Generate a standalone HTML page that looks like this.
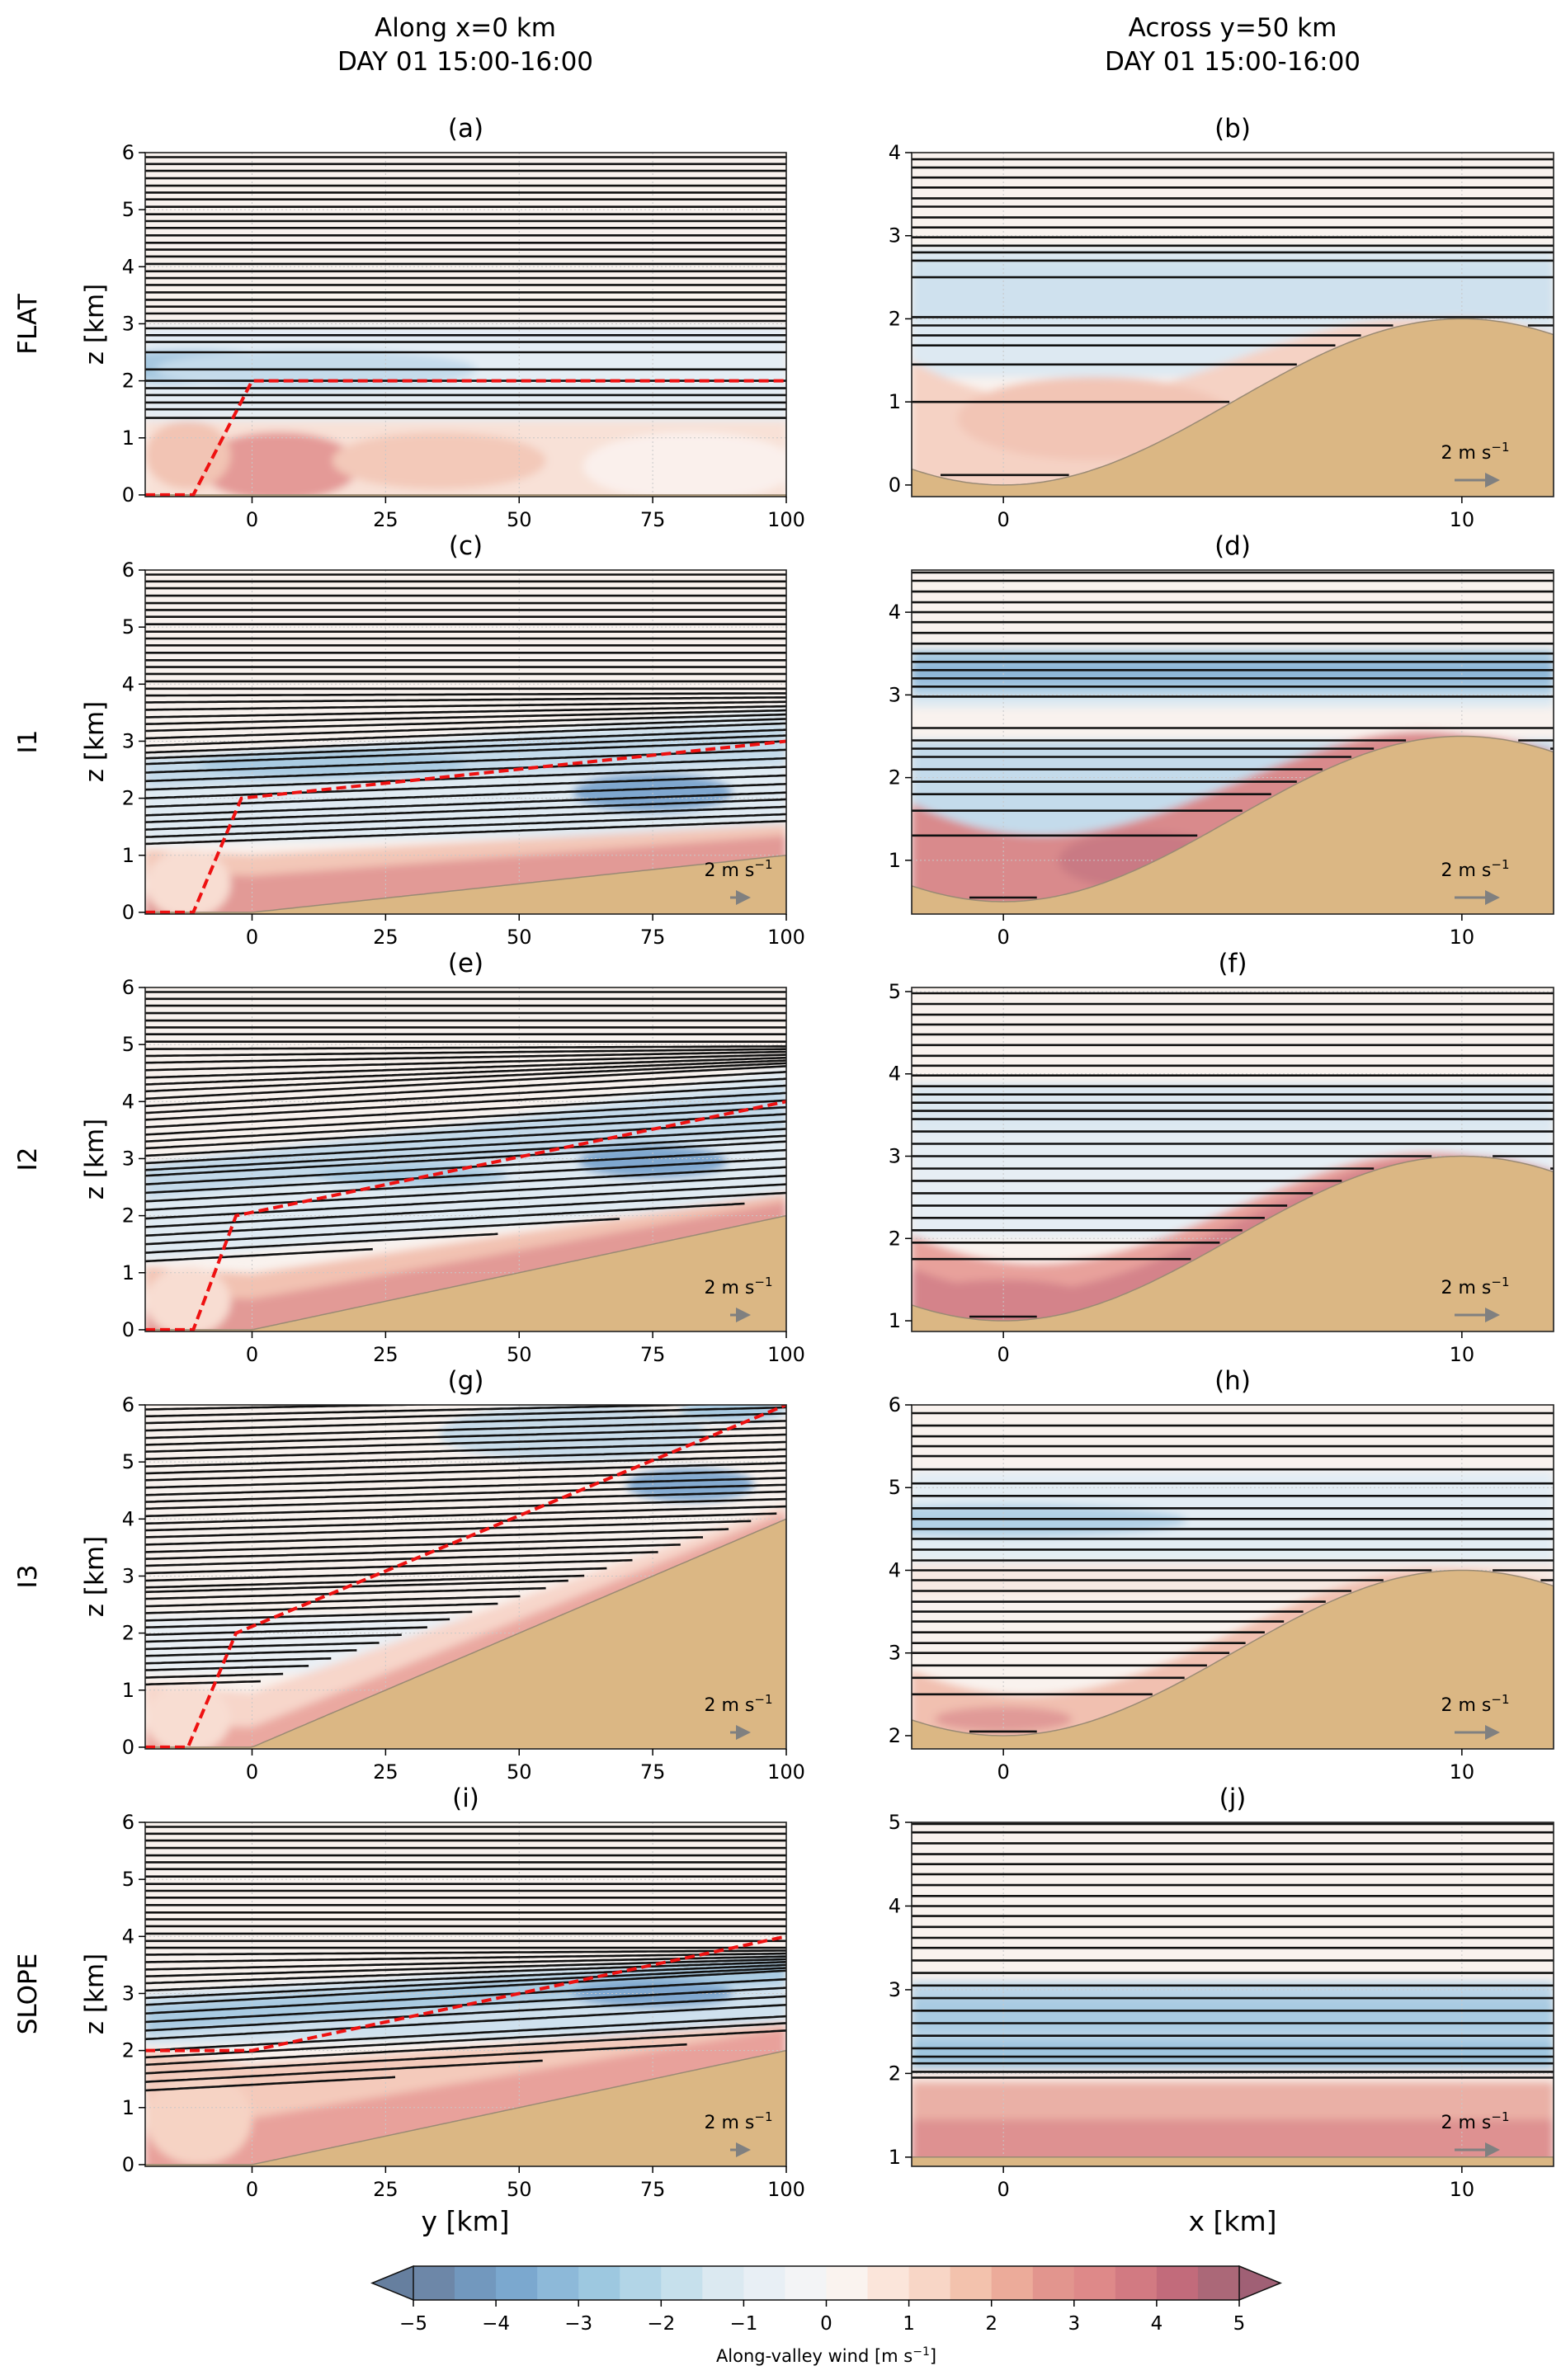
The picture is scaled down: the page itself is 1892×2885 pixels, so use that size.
<!DOCTYPE html>
<html><head><meta charset="utf-8"><style>
html,body{margin:0;padding:0;background:#fff;}
svg text{font-family:"DejaVu Sans","Liberation Sans",sans-serif;fill:#000;}
</style></head><body>
<svg id="fig" xmlns="http://www.w3.org/2000/svg" width="1892" height="2880" viewBox="0 0 1892 2880">
<defs>
<filter id="blur" x="-5%" y="-5%" width="110%" height="110%"><feGaussianBlur stdDeviation="5"/></filter>
<marker id="ah" markerWidth="6" markerHeight="6" refX="3" refY="3" orient="auto"><path d="M0,0 L6,3 L0,6 z" fill="#808080"/></marker>
</defs>
<text x="564" y="44" font-size="31" text-anchor="middle">Along x=0 km</text>
<text x="564" y="85" font-size="31" text-anchor="middle">DAY 01 15:00-16:00</text>
<text x="1494" y="44" font-size="31" text-anchor="middle">Across y=50 km</text>
<text x="1494" y="85" font-size="31" text-anchor="middle">DAY 01 15:00-16:00</text>
<text x="564" y="2704" font-size="33" text-anchor="middle">y [km]</text>
<text x="1494" y="2704" font-size="33" text-anchor="middle">x [km]</text>
</svg>
<script>
const NS='http://www.w3.org/2000/svg';
const svg=document.getElementById('fig');

const panelTops=[185,691,1197,1703,2209];
const rowNames=['FLAT','I1','I2','I3','SLOPE'];
const leftLetters=['(a)','(c)','(e)','(g)','(i)'];
const rightLetters=['(b)','(d)','(f)','(h)','(j)'];
const leftXTicks=[0,25,50,75,100];
const leftZTicks=[0,1,2,3,4,5,6];
const rightXTicks=[0,10];
const rightZTicks=[[0,1,2,3,4],[1,2,3,4],[1,2,3,4,5],[2,3,4,5,6],[1,2,3,4,5]];
const rightZRange=[[-0.14,4.0],[0.35,4.51],[0.87,5.05],[1.84,6.0],[0.89,5.0]];
const leftZRange=[-0.03,6];
const slopeGain=[0,1,2,4,2];
const valleyBase=[0,0.5,1,2,1];
const ridgeHeight=[2,2,2,2,0];

const redLineY=[[-20,-11,0,100],[-20,-11,-2,100],[-20,-11,-3,100],[-20,-12,-3,100],[-20,0,100]];
const redLineZ=[[0,0,2,2],[0,0,2,3],[0,0,2,4],[0,0,2,6],[2,2,4]];

const upperLevels=[2.8,2.92,3.05,3.18,3.3,3.42,3.55,3.68,3.8,3.92,4.05,4.18,4.3,4.42,4.55,4.68,4.8,4.92,5.05,5.18,5.3,5.42,5.55,5.68,5.8,5.92];
const leftLower=[
 [1.35,1.5,1.62,1.75,1.87,2.0,2.2,2.5,2.68],
 [1.2,1.32,1.45,1.58,1.7,1.85,2.0,2.15,2.3,2.45,2.6,2.7],
 [1.2,1.35,1.5,1.65,1.8,1.95,2.1,2.25,2.4,2.55,2.7],
 [1.1,1.22,1.35,1.47,1.6,1.72,1.85,1.97,2.1,2.22,2.35,2.47,2.6,2.72],
 [1.3,1.45,1.6,1.75,1.88,2.0,2.2,2.35,2.5,2.65]];
const leftBLStart=[1.3,1.15,1.15,1.1,1.25];
const leftBLEnd=[1.3,0.3,0.3,0.15,0.3];
const tiltTop=[0,3.9,5.0,6.6,3.8];
const tiltAmount=[0,0.4,0.6,0.3,0.6];
const rightLevels=[
 [0.12,1.0,1.45,1.68,1.8,1.92,2.02,2.5,2.7,2.8,2.88,2.98,3.1,3.22,3.35,3.45,3.58,3.7,3.82,3.92],
 [0.55,1.3,1.6,1.8,1.95,2.1,2.25,2.35,2.45,2.6,2.98,3.1,3.2,3.3,3.4,3.5,3.62,3.75,3.88,4.0,4.12,4.25,4.38,4.48],
 [1.05,1.75,1.95,2.1,2.25,2.4,2.55,2.7,2.85,3.0,3.15,3.3,3.45,3.55,3.65,3.75,3.85,3.98,4.1,4.22,4.35,4.48,4.6,4.72,4.85,4.98],
 [2.05,2.5,2.7,2.85,3.0,3.12,3.25,3.38,3.5,3.62,3.75,3.88,4.0,4.12,4.25,4.38,4.5,4.62,4.75,4.9,5.05,5.22,5.38,5.5,5.62,5.75,5.9],
 [1.95,2.02,2.12,2.2,2.3,2.45,2.6,2.75,2.9,3.05,3.2,3.35,3.5,3.62,3.75,3.88,4.0,4.12,4.25,4.38,4.5,4.62,4.75,4.88,4.98]];

const leftBands=[
 [['a',1.3,2.95,1.3,2.95,'#e4edf4'],['t',0,1.3,0,1.3,'#f8e1d7']],
 [['a',1.2,2.6,1.4,3.6,'#e0ebf3'],['a',2.2,2.7,2.6,3.3,'#c4dbeb'],['t',0,1.1,0,0.55,'#f3c7b8'],['t',0,0.7,0,0.35,'#e29a96']],
 [['a',1.2,2.6,2.3,4.6,'#e0ebf3'],['a',2.3,2.9,3.5,4.3,'#c2d9ea'],['t',0,1.1,0,0.4,'#f2c2b2'],['t',0,0.6,0,0.25,'#e29a96']],
 [['a',1.3,2.3,1.3,2.3,'#eaf0f5'],['t',0,1.1,0,0.25,'#f7d6ca'],['t',0,0.4,0,0.12,'#eaa8a0']],
 [['a',2.1,3.0,2.3,3.7,'#cfe1ee'],['a',2.3,2.8,3.2,3.6,'#a9cbe2'],['t',0,2.0,0,0.5,'#f4cabb'],['t',0,0.9,0,0.4,'#e8a19b']]];
const leftBlobs=[
 [[-10,2.25,22,0.3,'#a6c8e0'],[12,2.2,30,0.35,'#c5dbeb'],[5,0.5,15,0.6,'#e49a97'],[-12,0.7,8,0.6,'#f2c4b4'],[35,0.6,20,0.5,'#f3c9b9'],[82,0.5,20,0.6,'#faf0ec']],
 [[75,2.1,15,0.35,'#7fa7cf'],[15,2.6,25,0.25,'#a9cbe2'],[-12,0.5,8,0.6,'#f8ddd2']],
 [[75,2.95,14,0.3,'#7fa7cf'],[30,2.7,18,0.2,'#a9cbe2'],[-12,0.5,8,0.6,'#f8ddd2']],
 [[82,4.6,12,0.3,'#84abd1'],[60,5.5,25,0.5,'#c8dcea'],[90,5.9,10,0.2,'#a9cbe2'],[-12,0.5,8,0.6,'#f8ddd2']],
 [[75,3.0,15,0.25,'#7fa7cf'],[-10,0.8,10,0.8,'#f6d3c4']]];
const rightBands=[
 [['a',1.3,2.85,1.3,2.85,'#dde9f2'],['a',2.0,2.7,2.0,2.7,'#cfe1ee'],['t',0,1.3,0,-0.3,'#f5d2c4']],
 [['a',3.0,3.55,3.0,3.55,'#a9cbe2'],['a',3.15,3.4,3.15,3.4,'#8fb8d9'],['a',2.85,3.0,2.85,3.0,'#dce9f2'],['a',1.3,2.45,1.3,2.45,'#c4dbeb'],['t',0,1.0,0,-0.15,'#d98a8c']],
 [['a',3.3,3.9,3.3,3.9,'#dbe8f1'],['a',2.0,3.3,2.0,3.3,'#e6eef4'],['t',0,0.85,0,-0.12,'#e8a19b'],['t',0,0.45,0,-0.1,'#d4838a']],
 [['a',4.1,5.2,4.1,5.2,'#e3edf4'],['a',3.7,4.1,3.7,4.1,'#f7e9e3'],['t',0,0.6,0,-0.1,'#f1c0b0']],
 [['a',2.0,3.1,2.0,3.1,'#bcd6e8'],['a',2.0,2.4,2.0,2.4,'#9fc6df'],['a',2.5,2.9,2.5,2.9,'#a9cbe2'],['a',0.7,1.95,0.7,1.95,'#eab0a6'],['a',0.7,1.45,0.7,1.45,'#de9191'],['a',1.9,2.05,1.9,2.05,'#f9ece6']]];
const rightBlobs=[
 [[2,0.8,3,0.5,'#f2c5b5']],
 [[3,1.0,1.8,0.35,'#c97a84']],
 [[0,1.25,2,0.25,'#d4838a']],
 [[0,4.6,4,0.2,'#b2d1e6'],[0,2.2,1.5,0.15,'#e09a97']],
 []];

const cbLevels=[-5,-4,-3,-2,-1,0,1,2,3,4,5];
const cbColors=['#6d87a8','#7298be','#7ba8cf','#8db9d9','#9dc8e0','#b2d5e7','#c6e0ec','#dbe9f1','#e8eff5','#f3f4f6','#faf3ef','#fbe5da','#f8d6c6','#f3c2ad','#ecab9a','#e2958e','#de8989','#d27a82','#c26b7b','#ab6878'];

function mk(tag,attrs,parent){const e=document.createElementNS(NS,tag);for(const k in attrs)e.setAttribute(k,attrs[k]);(parent||svg).appendChild(e);return e;}
function lerp(a,b,t){return a+(b-a)*t;}

function makePanel(col,row){
  const p={col,row};
  p.x0=col===0?176:1105; p.x1=col===0?953:1883;
  p.y0=panelTops[row]; p.y1=panelTops[row]+417;
  p.xd=col===0?[-20,100]:[-2,12];
  p.zd=col===0?leftZRange:rightZRange[row];
  p.sx=v=>p.x0+(v-p.xd[0])/(p.xd[1]-p.xd[0])*(p.x1-p.x0);
  p.sz=v=>p.y1-(v-p.zd[0])/(p.zd[1]-p.zd[0])*(p.y1-p.y0);
  p.terr=col===0?(y=>y<=0?0:slopeGain[row]*y/100):(x=>valleyBase[row]+ridgeHeight[row]*(1-Math.cos(Math.PI*x/10))/2);
  return p;
}

function drawPanel(p){
  const id='clip'+p.col+p.row;
  const cp=mk('clipPath',{id},svg.querySelector('defs'));
  mk('rect',{x:p.x0,y:p.y0,width:p.x1-p.x0,height:p.y1-p.y0},cp);
  const g=mk('g',{'clip-path':'url(#'+id+')'});
  
  
  const bg=mk('rect',{x:p.x0,y:p.y0,width:p.x1-p.x0,height:p.y1-p.y0,fill:'#f9f2ee'},g);
  
  
  const fg=mk('g',{filter:'url(#blur)'},g);
  
  
  const N=120;
  const bands=p.col===0?leftBands[p.row]:rightBands[p.row];
  bands.forEach(b=>{
    const top=[],bot=[];
    for(let i=0;i<=N;i++){
      const t=i/N,x=lerp(p.xd[0],p.xd[1],t);
      const base=b[0]==='t'?p.terr(x):0;
      let lo=lerp(b[1],b[3],t),hi=lerp(b[2],b[4],t);
      if(b[0]==='t'){ if(hi<0)hi=0; if(b[1]===0)lo=-0.3; }
      if(hi<lo)hi=lo;
      bot.push([p.sx(x),p.sz(base+lo)]);
      top.push([p.sx(x),p.sz(base+hi)]);
    }
    const pts=top.concat(bot.reverse()).map(q=>q[0].toFixed(1)+','+q[1].toFixed(1)).join(' ');
    const e=mk('polygon',{points:pts,fill:b[5]},fg);
    
    
  });
  const blobs=p.col===0?leftBlobs[p.row]:rightBlobs[p.row];
  blobs.forEach(b=>{
    const e=mk('ellipse',{cx:p.sx(b[0]),cy:p.sz(b[1]),rx:Math.abs(p.sx(b[0]+b[2])-p.sx(b[0])),ry:Math.abs(p.sz(b[1]+b[3])-p.sz(b[1])),fill:b[4]},fg);
    
    
  });
  const xt=p.col===0?leftXTicks:rightXTicks, zt=p.col===0?leftZTicks:rightZTicks[p.row];
  xt.forEach(v=>{const e=mk('line',{x1:p.sx(v),x2:p.sx(v),y1:p.y0,y2:p.y1,stroke:'#c8c8c8','stroke-width':1,'stroke-dasharray':'2,3'},g);
    });
  zt.forEach(v=>{const e=mk('line',{x1:p.x0,x2:p.x1,y1:p.sz(v),y2:p.sz(v),stroke:'#c8c8c8','stroke-width':1,'stroke-dasharray':'2,3'},g);
    });
  const levels=p.col===0?leftLower[p.row].concat(upperLevels):rightLevels[p.row];
  levels.forEach(L=>{
    let segs=[],cur=[];
    for(let i=0;i<=200;i++){
      const x=lerp(p.xd[0],p.xd[1],i/200);
      let z=L,minZ;
      if(p.col===0){
        const t=(x-p.xd[0])/(p.xd[1]-p.xd[0]);
        const f=Math.max(0,Math.min(1,tiltTop[p.row]-L));
        z=L+tiltAmount[p.row]*t*f;
        const bl=x<=0?leftBLStart[p.row]:lerp(leftBLStart[p.row],leftBLEnd[p.row],x/100);
        minZ=p.terr(x)+bl;
      } else minZ=p.terr(x)+0.02;
      if(z>=minZ){cur.push(p.sx(x).toFixed(1)+','+p.sz(z).toFixed(1));}
      else if(cur.length){segs.push(cur);cur=[];}
    }
    if(cur.length)segs.push(cur);
    segs.forEach(s=>{if(s.length<2)return;
      const e=mk('polyline',{points:s.join(' '),fill:'none',stroke:'#111','stroke-width':2.6},g);
      
      });
  });
  const tp=[];
  for(let i=0;i<=200;i++){const x=lerp(p.xd[0],p.xd[1],i/200);tp.push(p.sx(x).toFixed(1)+','+p.sz(p.terr(x)).toFixed(1));}
  tp.push(p.x1+','+(p.y1+5));tp.push(p.x0+','+(p.y1+5));
  const ter=mk('polygon',{points:tp.join(' '),fill:'#dbb784',stroke:'#9a8a74','stroke-width':1.5},g);
  
  
  if(p.col===0){
    const ys=redLineY[p.row],zs=redLineZ[p.row];
    const pts=ys.map((y,i)=>p.sx(y).toFixed(1)+','+p.sz(zs[i]).toFixed(1)).join(' ');
    const e=mk('polyline',{points:pts,fill:'none',stroke:'#ee1111','stroke-width':4,'stroke-dasharray':'12,6'},g);
    
    
  }
  if(!(p.col===0&&p.row===0)){
    const kx=p.col===0?p.x1-58:p.x1-95;
    const kt=mk('text',{x:kx,y:p.y1-46,'font-size':22,'text-anchor':'middle'});
    kt.textContent='2 m s';
    const sup=mk('tspan',{'font-size':15,dy:-9},kt);sup.textContent='\u22121';
    
    
    const len=p.col===0?20:50;
    const ka=mk('line',{x1:kx-len/2,x2:kx+len/2-4,y1:p.y1-20,y2:p.y1-20,stroke:'#808080','stroke-width':3,'marker-end':'url(#ah)'});
    
    
  }
  const fr=mk('rect',{x:p.x0,y:p.y0,width:p.x1-p.x0,height:p.y1-p.y0,fill:'none',stroke:'#222','stroke-width':1.6});
  
  
  xt.forEach(v=>{
    const x=p.sx(v);
    mk('line',{x1:x,x2:x,y1:p.y1,y2:p.y1+8,stroke:'#000','stroke-width':1.5});
    const t=mk('text',{x:x,y:p.y1+36,'font-size':24,'text-anchor':'middle'});t.textContent=v;
    
  });
  zt.forEach(v=>{
    const y=p.sz(v);
    mk('line',{x1:p.x0-8,x2:p.x0,y1:y,y2:y,stroke:'#000','stroke-width':1.5});
    const t=mk('text',{x:p.x0-13,y:y+8,'font-size':24,'text-anchor':'end'});t.textContent=v;
    
  });
  const lt=mk('text',{x:(p.x0+p.x1)/2,y:p.y0-19,'font-size':31,'text-anchor':'middle'});
  lt.textContent=(p.col===0?leftLetters:rightLetters)[p.row];
  
  
}

for(let r=0;r<5;r++){
  drawPanel(makePanel(0,r));
  drawPanel(makePanel(1,r));
  const cy=panelTops[r]+208;
  const zl=mk('text',{x:0,y:0,'font-size':31,'text-anchor':'middle',transform:'translate(125,'+cy+') rotate(-90)'});
  zl.textContent='z [km]';
  
  
  const rl=mk('text',{x:0,y:0,'font-size':31,'text-anchor':'middle',transform:'translate(44,'+cy+') rotate(-90)'});
  rl.textContent=rowNames[r];
  
  
}

(function(){
  const x0=501,x1=1502,y0=2747,y1=2788;
  const cs=v=>x0+(v-cbLevels[0])/(cbLevels[cbLevels.length-1]-cbLevels[0])*(x1-x0);
  const cb=mk('g',{});
  
  
  const n=cbColors.length,step=(cbLevels[cbLevels.length-1]-cbLevels[0])/n;
  cbColors.forEach((c,i)=>{
    const a=cs(cbLevels[0]+i*step),b=cs(cbLevels[0]+(i+1)*step);
    const r=mk('rect',{x:a,y:y0,width:b-a+0.5,height:y1-y0,fill:c},cb);
    
    
  });
  const lt=mk('polygon',{points:`${x0},${y0} ${x0-50},${(y0+y1)/2} ${x0},${y1}`,fill:'#667f9f',stroke:'#111','stroke-width':1.5},cb);
  
  const rt=mk('polygon',{points:`${x1},${y0} ${x1+50},${(y0+y1)/2} ${x1},${y1}`,fill:'#a06075',stroke:'#111','stroke-width':1.5},cb);
  
  mk('line',{x1:x0,x2:x1,y1:y0,y2:y0,stroke:'#111','stroke-width':1.5},cb);
  mk('line',{x1:x0,x2:x1,y1:y1,y2:y1,stroke:'#111','stroke-width':1.5},cb);
  cbLevels.forEach(v=>{
    const x=cs(v);
    mk('line',{x1:x,x2:x,y1:y1,y2:y1+8,stroke:'#000','stroke-width':1.5},cb);
    const t=mk('text',{x:x,y:y1+36,'font-size':23,'text-anchor':'middle'},cb);
    t.textContent=v<0?'\u2212'+(-v):String(v);
    
  });
  const l=mk('text',{x:(x0+x1)/2,y:2863,'font-size':21,'text-anchor':'middle'},cb);
  l.textContent='Along-valley wind [m s';
  const s=mk('tspan',{'font-size':14,dy:-8},l);s.textContent='\u22121';
  const s2=mk('tspan',{dy:8},l);s2.textContent=']';
  
})();
</script>
</body></html>
